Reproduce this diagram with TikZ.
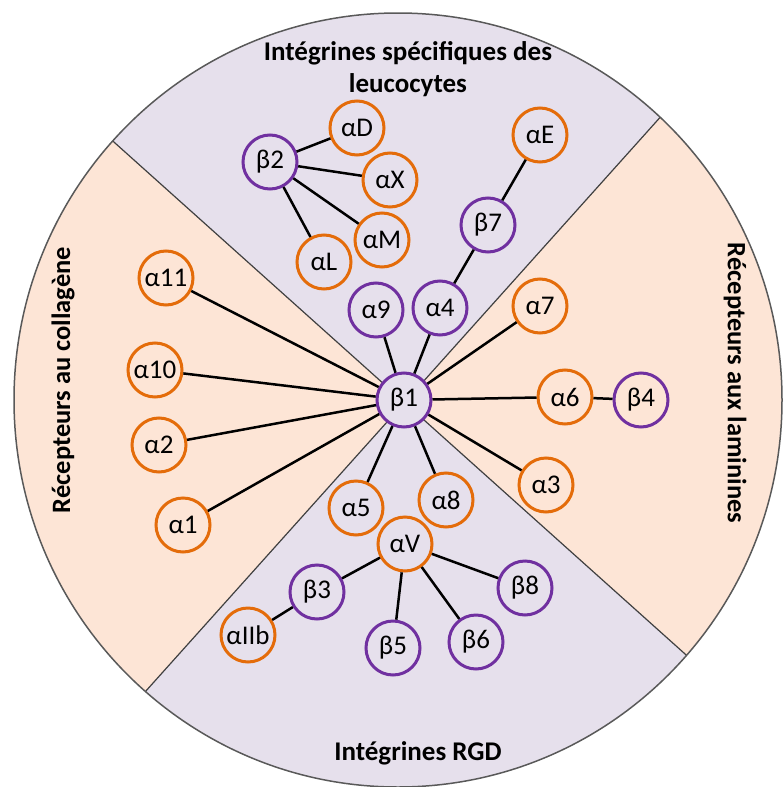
\documentclass[tikz,border=0pt]{standalone}
\usepackage{fontspec}
\setmainfont{Carlito}
\usetikzlibrary{calc}
\definecolor{lav}{HTML}{E6E0EC}
\definecolor{peach}{HTML}{FDE5D6}
\definecolor{orng}{HTML}{E46C0A}
\definecolor{purp}{HTML}{7030A0}
\begin{document}
\begin{tikzpicture}[x=1pt, y=1pt,
    ab/.style={circle, draw=orng, line width=3pt, minimum size=54pt,
      inner sep=0, font=\fontsize{27}{27}\selectfont},
    bb/.style={ab, draw=purp},
    link/.style={line width=2.5pt},
    title/.style={font=\fontsize{27}{32}\selectfont\bfseries, align=center}]
  \useasboundingbox (0,0) rectangle (782,-787);
  \coordinate (ctr) at (404.5,-402.5);
  \coordinate (tl) at (115,-143);
  \coordinate (tr) at (664,-113);
  \coordinate (bl) at (145,-692);
  \coordinate (br) at (694,-662);
  \fill[peach] (398,-400) ellipse [x radius=384, y radius=387];
  \begin{scope}
    \clip (398,-400) ellipse [x radius=384, y radius=387];
    \fill[lav] (ctr) -- ($(ctr)!2!(tl)$) -- ($(ctr)!2!(tr)$) -- cycle;
    \fill[lav] (ctr) -- ($(ctr)!2!(bl)$) -- ($(ctr)!2!(br)$) -- cycle;
    \draw[black!75, line width=1.2pt] ($(ctr)!2!(tl)$) -- ($(ctr)!2!(br)$)
      ($(ctr)!2!(tr)$) -- ($(ctr)!2!(bl)$);
  \end{scope}
  \draw[black!65, line width=1.5pt] (398,-400) ellipse [x radius=384, y radius=387];

  \node[title] (leuco) at (408,-69) {Intégrines spécifiques des\\leucocytes};
  \node[title] (rgd) at (418,-753) {Intégrines RGD};
  \node[title, font=\fontsize{26.5}{32}\selectfont\bfseries, rotate=90] (coll) at (63,-380) {Récepteurs au collagène};
  \node[title, font=\fontsize{26.5}{32}\selectfont\bfseries, rotate=-90] (lam) at (735,-383) {Récepteurs aux laminines};

  \node[bb, fill=lav] (b1) at (404,-400) {β1};
  \node[ab] (a11) at (166,-278) {α11};
  \node[ab] (a10) at (155,-370) {α10};
  \node[ab] (a2) at (159,-445) {α2};
  \node[ab] (a1) at (183,-525) {α1};
  \node[bb] (a9) at (376,-310) {α9};
  \node[bb] (a4) at (440,-308) {α4};
  \node[ab] (a7) at (540,-306) {α7};
  \node[ab] (a6) at (565,-397) {α6};
  \node[bb] (b4) at (641,-400) {β4};
  \node[ab] (a3) at (546,-485) {α3};
  \node[ab] (a5) at (356,-508) {α5};
  \node[ab] (a8) at (446,-500) {α8};
  \node[ab] (aV) at (405,-544) {αV};
  \node[bb] (b8) at (525,-588) {β8};
  \node[bb] (b3) at (317,-592) {β3};
  \node[ab] (aIIb) at (248,-635) {αIIb};
  \node[bb] (b5) at (393,-648) {β5};
  \node[bb] (b6) at (476,-642) {β6};
  \node[bb] (b7) at (488,-225) {β7};
  \node[ab] (aE) at (540,-135) {αE};
  \node[bb] (b2) at (270,-162) {β2};
  \node[ab] (aD) at (357,-128) {αD};
  \node[ab] (aX) at (390,-180) {αX};
  \node[ab] (aM) at (382,-240) {αM};
  \node[ab] (aL) at (324,-262) {αL};

  \foreach \n in {a11,a10,a2,a1,a9,a4,a7,a6,a3,a5,a8}
    \draw[link] (b1) -- (\n);
  \foreach \n in {aD,aX,aM,aL}
    \draw[link] (b2) -- (\n);
  \foreach \n in {b3,b5,b6,b8}
    \draw[link] (aV) -- (\n);
  \draw[link] (a6) -- (b4);
  \draw[link] (b3) -- (aIIb);
  \draw[link] (a4) -- (b7);
  \draw[link] (b7) -- (aE);
\end{tikzpicture}
\end{document}
